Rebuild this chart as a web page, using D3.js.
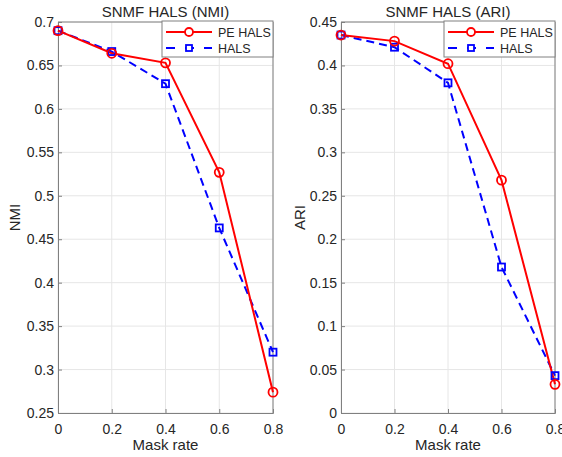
<!DOCTYPE html>
<html>
<head>
<meta charset="utf-8">
<script src="https://cdn.jsdelivr.net/npm/d3@7"></script>
<style>
  body { margin: 0; background: #fff; }
  svg text { font-family: "Liberation Sans", Arial, sans-serif; fill: #262626; }
</style>
</head>
<body>
<svg id="chart" width="562" height="457"></svg>
<script>
// mask rates on the x axis
const maskRates = [0, 0.2, 0.4, 0.6, 0.8];

// NMI values
const nmiPeHals = [0.690, 0.664, 0.653, 0.527, 0.274];
const nmiHals = [0.690, 0.666, 0.629, 0.463, 0.320];

// ARI values
const ariPeHals = [0.435, 0.428, 0.402, 0.268, 0.033];
const ariHals = [0.435, 0.421, 0.380, 0.168, 0.043];

const xTicks = [0, 0.2, 0.4, 0.6, 0.8];
const nmiTicks = [0.25, 0.3, 0.35, 0.4, 0.45, 0.5, 0.55, 0.6, 0.65, 0.7];
const ariTicks = [0, 0.05, 0.1, 0.15, 0.2, 0.25, 0.3, 0.35, 0.4, 0.45];

const seriesNames = ["PE HALS", "HALS"];

const svg = d3.select("#chart");

const panels = [
	{
		title: "SNMF HALS (NMI)", ylabel: "NMI", left: 58, right: 273, ylabelX: 15,
		domain: [0.25, 0.7], ticks: nmiTicks, pe: nmiPeHals, hals: nmiHals
	},
	{
		title: "SNMF HALS (ARI)", ylabel: "ARI", left: 341, right: 555, ylabelX: 300,
		domain: [0, 0.45], ticks: ariTicks, pe: ariPeHals, hals: ariHals
	}
];

const plotTop = 22, plotBottom = 413;
const axisColor = "#808080";

panels.forEach((p) => {
	const x = d3.scaleLinear().domain([0, 0.8]).range([p.left, p.right]);
	const y = d3.scaleLinear().domain(p.domain).range([plotBottom, plotTop]);
	const g = svg.append("g");

	// grid
	g.selectAll("line.vgrid").data(xTicks).enter().append("line")
		.attr("x1", (d) => x(d)).attr("x2", (d) => x(d))
		.attr("y1", plotTop).attr("y2", plotBottom)
		.attr("stroke", "#e6e6e6").attr("stroke-width", 1);
	g.selectAll("line.hgrid").data(p.ticks).enter().append("line")
		.attr("x1", p.left).attr("x2", p.right)
		.attr("y1", (d) => y(d)).attr("y2", (d) => y(d))
		.attr("stroke", "#e6e6e6").attr("stroke-width", 1);

	// axes
	const xAxis = g.append("g")
		.attr("transform", `translate(0,${plotBottom})`)
		.call(d3.axisBottom(x).tickValues(xTicks).tickSize(-4).tickPadding(8)
			.tickFormat(d3.format("~g")));
	const yAxis = g.append("g")
		.attr("transform", `translate(${p.left},0)`)
		.call(d3.axisLeft(y).tickValues(p.ticks).tickSize(-4).tickPadding(4)
			.tickFormat(d3.format("~g")));
	[xAxis, yAxis].forEach((a) => {
		a.select(".domain").attr("stroke", axisColor);
		a.selectAll(".tick line").attr("stroke", axisColor);
		a.selectAll("text").attr("font-size", 14)
			.attr("font-family", "Liberation Sans, Arial, sans-serif")
			.attr("fill", "#262626");
	});
	xAxis.selectAll("text").attr("dy", "0.9em");

	// box top and right
	g.append("line").attr("x1", p.left).attr("x2", p.right)
		.attr("y1", plotTop).attr("y2", plotTop).attr("stroke", axisColor);
	g.append("line").attr("x1", p.right).attr("x2", p.right)
		.attr("y1", plotTop).attr("y2", plotBottom).attr("stroke", axisColor);

	// series
	const line = d3.line().x((d, i) => x(maskRates[i])).y((d) => y(d));
	g.append("path").datum(p.hals).attr("d", line)
		.attr("fill", "none").attr("stroke", "#0000ff")
		.attr("stroke-width", 2).attr("stroke-dasharray", "8,5");
	g.append("path").datum(p.pe).attr("d", line)
		.attr("fill", "none").attr("stroke", "#ff0000").attr("stroke-width", 2);

	g.selectAll("rect.hm").data(p.hals).enter().append("rect")
		.attr("x", (d, i) => x(maskRates[i]) - 3.5)
		.attr("y", (d) => y(d) - 3.5)
		.attr("width", 7).attr("height", 7)
		.attr("fill", "none").attr("stroke", "#0000ff").attr("stroke-width", 1.8);
	g.selectAll("circle.pm").data(p.pe).enter().append("circle")
		.attr("cx", (d, i) => x(maskRates[i]))
		.attr("cy", (d) => y(d))
		.attr("r", 4.5)
		.attr("fill", "none").attr("stroke", "#ff0000").attr("stroke-width", 1.8);

	// title and labels
	g.append("text").attr("x", (p.left + p.right) / 2).attr("y", 17)
		.attr("text-anchor", "middle").attr("font-size", 15).text(p.title);
	g.append("text").attr("x", (p.left + p.right) / 2).attr("y", 450)
		.attr("text-anchor", "middle").attr("font-size", 15).text("Mask rate");
	g.append("text")
		.attr("transform", `translate(${p.ylabelX + 5},${(plotTop + plotBottom) / 2}) rotate(-90)`)
		.attr("text-anchor", "middle").attr("font-size", 15).text(p.ylabel);

	// legend
	const lw = 111, lh = 36;
	const lx = p.right - lw, ly = plotTop - 1;
	const leg = g.append("g");
	leg.append("rect").attr("x", lx).attr("y", ly).attr("width", lw).attr("height", lh)
		.attr("fill", "#fff").attr("stroke", axisColor);
	seriesNames.forEach((name, i) => {
		const cy = ly + 11 + i * 16;
		const isPe = i === 0;
		const col = isPe ? "#ff0000" : "#0000ff";
		leg.append("line").attr("x1", lx + 4).attr("x2", lx + 50)
			.attr("y1", cy).attr("y2", cy).attr("stroke", col).attr("stroke-width", 2)
			.attr("stroke-dasharray", isPe ? null : "9,10");
		if (isPe) {
			leg.append("circle").attr("cx", lx + 27).attr("cy", cy).attr("r", 4)
				.attr("fill", "#fff").attr("stroke", col).attr("stroke-width", 1.8);
		} else {
			leg.append("rect").attr("x", lx + 24).attr("y", cy - 3).attr("width", 6).attr("height", 6)
				.attr("fill", "#fff").attr("stroke", col).attr("stroke-width", 1.8);
		}
		leg.append("text").attr("x", lx + 56).attr("y", cy + 4.5)
			.attr("font-size", 12.5).text(name);
	});
});
</script>
</body>
</html>
